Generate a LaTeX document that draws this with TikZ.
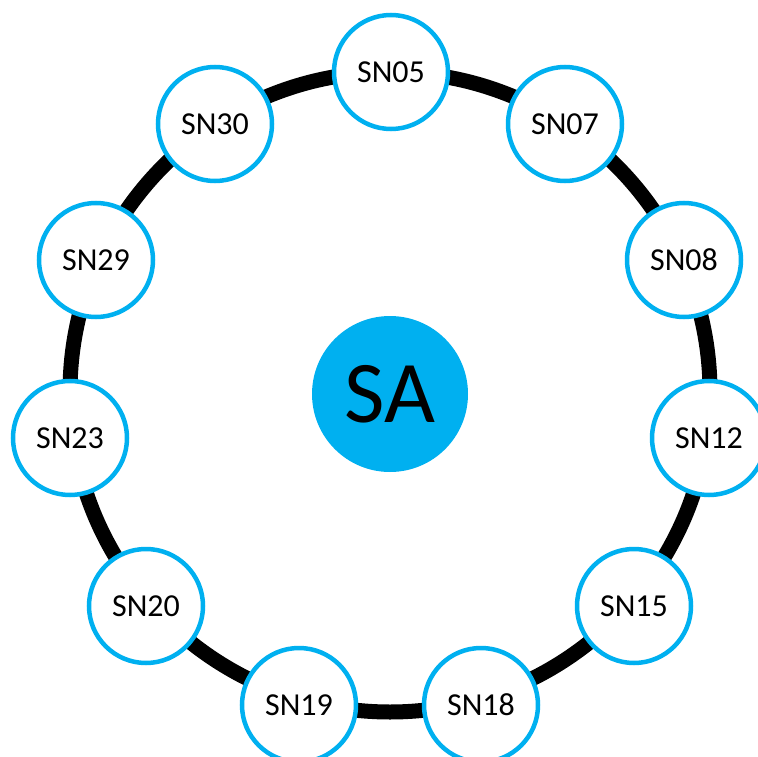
\documentclass[tikz,border=0pt]{standalone}
\usepackage{fontspec}
\setmainfont{Carlito}
\definecolor{snblue}{HTML}{00B0F0}
\begin{document}
\begin{tikzpicture}[x=1pt,y=-1pt,
  sn/.style={circle,draw=snblue,line width=4.5pt,fill=white,minimum size=114pt,inner sep=0pt,font=\fontsize{32}{32}\selectfont},
  sa/.style={circle,fill=snblue,minimum size=156pt,inner sep=0pt,font=\fontsize{88}{88}\selectfont},
  ring/.style={line width=15pt,black}]
\useasboundingbox (0,0) rectangle (758,757);
\coordinate (ctr) at (390,392);
\draw[ring] (ctr) circle (320);
\node[sa] (SA) at (390,394) {SA};
\node[sn] (SN05) at (391,72) {SN05};
\node[sn] (SN07) at (565,124) {SN07};
\node[sn] (SN08) at (684,260) {SN08};
\node[sn] (SN12) at (709,438) {SN12};
\node[sn] (SN15) at (634,606) {SN15};
\node[sn] (SN18) at (481,705) {SN18};
\node[sn] (SN19) at (299,705) {SN19};
\node[sn] (SN20) at (146,606) {SN20};
\node[sn] (SN23) at (70,438) {SN23};
\node[sn] (SN29) at (96,260) {SN29};
\node[sn] (SN30) at (215,124) {SN30};
\end{tikzpicture}
\end{document}
